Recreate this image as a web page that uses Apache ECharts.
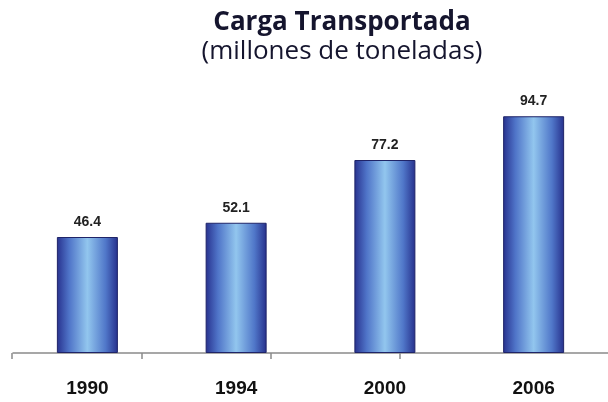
<!DOCTYPE html>
<html>
<head>
<meta charset="utf-8">
<script src="https://cdn.jsdelivr.net/npm/echarts@6/dist/echarts.min.js"></script>
<style>
html, body { margin: 0; padding: 0; background: #fff; }
#chart { width: 608px; height: 402px; }
</style>
</head>
<body>
<div id="chart"></div>
<script>
"use strict";
var years = ["1990", "1994", "2000", "2006"];
var carga = [46.4, 52.1, 77.2, 94.7];

var chart = echarts.init(document.getElementById("chart"));
var option = {
    animation: false,
    title: {
        text: "Carga Transportada",
        subtext: "(millones de toneladas)",
        left: 337,
        textAlign: "center",
        top: 5,
        itemGap: 3,
        textStyle: {fontFamily: "Open Sans", fontWeight: "bold", fontSize: 26, color: "#15152e"},
        subtextStyle: {fontFamily: "Open Sans", fontSize: 26, color: "#15152e"}
    },
    grid: [
        {left: 13, top: 103, width: 600, bottom: 49},
        {left: 12, top: 103, width: 388, bottom: 49}
    ],
    xAxis: [{
        type: "category",
        data: years,
        axisLine: {lineStyle: {color: "#8a8a8a", width: 1.5}},
        axisTick: {show: false},
        axisLabel: {
            margin: 26,
            fontFamily: "Liberation Sans",
            fontWeight: "bold",
            fontSize: 19,
            color: "#111"
        }
    }, {
        // separate tick row, as in the original the ticks do not sit between bars
        gridIndex: 1,
        type: "value",
        min: 0,
        max: 3,
        interval: 1,
        axisLine: {show: false},
        axisTick: {show: true, length: 6, lineStyle: {color: "#8a8a8a", width: 1.5}},
        axisLabel: {show: false},
        splitLine: {show: false}
    }],
    yAxis: [{
        type: "value",
        min: 0,
        max: 100,
        show: false,
        splitLine: {show: false}
    }, {
        gridIndex: 1,
        type: "value",
        show: false
    }],
    series: [{
        type: "bar",
        data: carga,
        barWidth: 61,
        itemStyle: {
            borderColor: "#1f2468",
            borderWidth: 1,
            color: new echarts.graphic.LinearGradient(0, 0, 1, 0, [
                {offset: 0, color: "#27318e"},
                {offset: 0.2, color: "#4f74c8"},
                {offset: 0.5, color: "#92c6ee"},
                {offset: 0.8, color: "#5077c9"},
                {offset: 1, color: "#26308c"}
            ])
        },
        label: {
            show: true,
            position: "top",
            distance: 8,
            fontFamily: "Liberation Sans",
            fontWeight: "bold",
            fontSize: 14,
            color: "#222"
        }
    }]
};
chart.setOption(option);
</script>
</body>
</html>
